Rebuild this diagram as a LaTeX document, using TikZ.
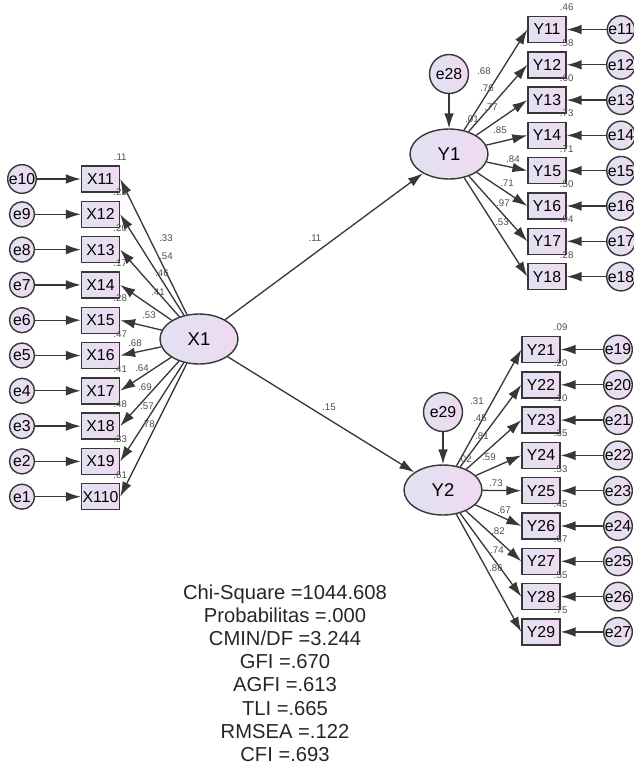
\documentclass[tikz,border=0pt]{standalone}
\usepackage{fontspec}
\setmainfont{Liberation Sans}
\usetikzlibrary{arrows.meta,positioning,shapes.geometric}
\definecolor{lavL}{RGB}{224,226,241}
\definecolor{lavR}{RGB}{240,217,241}
\definecolor{linegray}{RGB}{55,55,55}

\begin{document}
\begin{tikzpicture}[x=0.02cm,y=-0.02cm,
    shaded/.style={draw=linegray,line width=0.8pt,left color=lavL,right color=lavR,inner sep=0pt},
    ind/.style={shaded,rectangle,minimum width=0.76cm,minimum height=0.52cm,font=\fontsize{9}{9}\selectfont},
    lat/.style={shaded,ellipse,minimum width=1.56cm,minimum height=1cm,font=\fontsize{10.5}{10.5}\selectfont},
    err/.style={shaded,circle,minimum size=0.5cm,font=\fontsize{9}{9}\selectfont},
    bigerr/.style={err,minimum size=0.78cm},
    coef/.style={inner sep=0pt,text=black!70,font=\fontsize{5.5}{5.5}\selectfont},
    r2/.style={coef,above=2.5pt of #1},
    stats/.style={align=center,text=black!85,font=\fontsize{11.5}{13.2}\selectfont}]

  \useasboundingbox (0,0) rectangle (634,765);

  % latent variables
  \node[lat] (x1) at (199,339) {X1};
  \node[lat] (y1) at (449,154) {Y1};
  \node[lat] (y2) at (443,490) {Y2};
  \node[bigerr] (e28) at (449,74) {e28};
  \node[bigerr] (e29) at (443,412) {e29};

  % X indicators and errors
  \node[ind] (x11)  at (100.5,179)   {X11};
  \node[ind] (x12)  at (100.5,214.3) {X12};
  \node[ind] (x13)  at (100.5,249.6) {X13};
  \node[ind] (x14)  at (100.5,284.9) {X14};
  \node[ind] (x15)  at (100.5,320.2) {X15};
  \node[ind] (x16)  at (100.5,355.5) {X16};
  \node[ind] (x17)  at (100.5,390.8) {X17};
  \node[ind] (x18)  at (100.5,426.1) {X18};
  \node[ind] (x19)  at (100.5,461.4) {X19};
  \node[ind] (x110) at (100.5,496.7) {X110};
  \node[err] (e10) at (22,179)   {e10};
  \node[err] (e9)  at (22,214.3) {e9};
  \node[err] (e8)  at (22,249.6) {e8};
  \node[err] (e7)  at (22,284.9) {e7};
  \node[err] (e6)  at (22,320.2) {e6};
  \node[err] (e5)  at (22,355.5) {e5};
  \node[err] (e4)  at (22,390.8) {e4};
  \node[err] (e3)  at (22,426.1) {e3};
  \node[err] (e2)  at (22,461.4) {e2};
  \node[err] (e1)  at (22,496.7) {e1};

  % Y1 indicators and errors
  \node[ind] (y11) at (547,29.5)  {Y11};
  \node[ind] (y12) at (547,64.8)  {Y12};
  \node[ind] (y13) at (547,100.1) {Y13};
  \node[ind] (y14) at (547,135.4) {Y14};
  \node[ind] (y15) at (547,170.7) {Y15};
  \node[ind] (y16) at (547,206)   {Y16};
  \node[ind] (y17) at (547,241.3) {Y17};
  \node[ind] (y18) at (547,276.6) {Y18};
  \node[err] (e11) at (621,29.5)  {e11};
  \node[err] (e12) at (621,64.8)  {e12};
  \node[err] (e13) at (621,100.1) {e13};
  \node[err] (e14) at (621,135.4) {e14};
  \node[err] (e15) at (621,170.7) {e15};
  \node[err] (e16) at (621,206)   {e16};
  \node[err] (e17) at (621,241.3) {e17};
  \node[err] (e18) at (621,276.6) {e18};

  % Y2 indicators and errors
  \node[ind] (y21) at (541,349.5) {Y21};
  \node[ind] (y22) at (541,384.8) {Y22};
  \node[ind] (y23) at (541,420.1) {Y23};
  \node[ind] (y24) at (541,455.4) {Y24};
  \node[ind] (y25) at (541,490.7) {Y25};
  \node[ind] (y26) at (541,526)   {Y26};
  \node[ind] (y27) at (541,561.3) {Y27};
  \node[ind] (y28) at (541,596.6) {Y28};
  \node[ind] (y29) at (541,631.9) {Y29};
  \node[err] (e19) at (618,349.5) {e19};
  \node[err] (e20) at (618,384.8) {e20};
  \node[err] (e21) at (618,420.1) {e21};
  \node[err] (e22) at (618,455.4) {e22};
  \node[err] (e23) at (618,490.7) {e23};
  \node[err] (e24) at (618,526)   {e24};
  \node[err] (e25) at (618,561.3) {e25};
  \node[err] (e26) at (618,596.6) {e26};
  \node[err] (e27) at (618,631.9) {e27};

  \begin{scope}[every edge/.style={draw=linegray,line width=0.75pt,-{Latex[length=8.5pt,width=5.5pt]}}]
    % structural paths
    \path (x1) edge (y1);
    \path (x1) edge (y2);
    \path (e28) edge (y1);
    \path (e29) edge (y2);
    % X1 loadings
    \path (x1) edge (x11.east);
    \path (x1) edge (x12.east);
    \path (x1) edge (x13.east);
    \path (x1) edge (x14.east);
    \path (x1) edge (x15.east);
    \path (x1) edge (x16.east);
    \path (x1) edge (x17.east);
    \path (x1) edge (x18.east);
    \path (x1) edge (x19.east);
    \path (x1) edge (x110.east);
    \path (e10) edge (x11);
    \path (e9)  edge (x12);
    \path (e8)  edge (x13);
    \path (e7)  edge (x14);
    \path (e6)  edge (x15);
    \path (e5)  edge (x16);
    \path (e4)  edge (x17);
    \path (e3)  edge (x18);
    \path (e2)  edge (x19);
    \path (e1)  edge (x110);
    % Y1 loadings
    \path (y1) edge (y11.west);
    \path (y1) edge (y12.west);
    \path (y1) edge (y13.west);
    \path (y1) edge (y14.west);
    \path (y1) edge (y15.west);
    \path (y1) edge (y16.west);
    \path (y1) edge (y17.west);
    \path (y1) edge (y18.west);
    \path (e11) edge (y11);
    \path (e12) edge (y12);
    \path (e13) edge (y13);
    \path (e14) edge (y14);
    \path (e15) edge (y15);
    \path (e16) edge (y16);
    \path (e17) edge (y17);
    \path (e18) edge (y18);
    % Y2 loadings
    \path (y2) edge (y21.west);
    \path (y2) edge (y22.west);
    \path (y2) edge (y23.west);
    \path (y2) edge (y24.west);
    \path (y2) edge (y25.west);
    \path (y2) edge (y26.west);
    \path (y2) edge (y27.west);
    \path (y2) edge (y28.west);
    \path (y2) edge (y29.west);
    \path (e19) edge (y21);
    \path (e20) edge (y22);
    \path (e21) edge (y23);
    \path (e22) edge (y24);
    \path (e23) edge (y25);
    \path (e24) edge (y26);
    \path (e25) edge (y27);
    \path (e26) edge (y28);
    \path (e27) edge (y29);
  \end{scope}

  % estimates
  \begin{scope}[every node/.style={coef}]
    \node (bx1y1) at (315,238) {.11};
    \node (bx1y2) at (329,407) {.15};
    \node (ry1) at (472,119) {.01};
    \node (ry2) at (465,459) {.02};
    \node (lx11)  at (166,238) {.33};
    \node (lx12)  at (166,256) {.54};
    \node (lx13)  at (162,273) {.46};
    \node (lx14)  at (158,292) {.41};
    \node (lx15)  at (149,315) {.53};
    \node (lx16)  at (135,343) {.68};
    \node (lx17)  at (142,368) {.64};
    \node (lx18)  at (145,387) {.69};
    \node (lx19)  at (147,406) {.57};
    \node (lx110) at (148,424) {.78};
    \node (ly11) at (484,71)  {.68};
    \node (ly12) at (487,88)  {.76};
    \node (ly13) at (491,107) {.77};
    \node (ly14) at (500,130) {.85};
    \node (ly15) at (513,159) {.84};
    \node (ly16) at (507,183) {.71};
    \node (ly17) at (503,203) {.97};
    \node (ly18) at (502,222) {.53};
    \node (ly21) at (477,401) {.31};
    \node (ly22) at (480,418) {.45};
    \node (ly23) at (482,436) {.81};
    \node (ly24) at (489,457) {.59};
    \node (ly25) at (496,483) {.73};
    \node (ly26) at (504,510) {.67};
    \node (ly27) at (498,531) {.82};
    \node (ly28) at (497,550) {.74};
    \node (ly29) at (496,568) {.86};
  \end{scope}

  % squared multiple correlations
  \node[r2=x11.north east]  (rx11)  {.11};
  \node[r2=x12.north east]  (rx12)  {.23};
  \node[r2=x13.north east]  (rx13)  {.20};
  \node[r2=x14.north east]  (rx14)  {.17};
  \node[r2=x15.north east]  (rx15)  {.28};
  \node[r2=x16.north east]  (rx16)  {.47};
  \node[r2=x17.north east]  (rx17)  {.41};
  \node[r2=x18.north east]  (rx18)  {.48};
  \node[r2=x19.north east]  (rx19)  {.33};
  \node[r2=x110.north east] (rx110) {.61};
  \node[r2=y11.north east] (ry11) {.46};
  \node[r2=y12.north east] (ry12) {.58};
  \node[r2=y13.north east] (ry13) {.60};
  \node[r2=y14.north east] (ry14) {.73};
  \node[r2=y15.north east] (ry15) {.71};
  \node[r2=y16.north east] (ry16) {.50};
  \node[r2=y17.north east] (ry17) {.94};
  \node[r2=y18.north east] (ry18) {.28};
  \node[r2=y21.north east] (ry21) {.09};
  \node[r2=y22.north east] (ry22) {.20};
  \node[r2=y23.north east] (ry23) {.10};
  \node[r2=y24.north east] (ry24) {.35};
  \node[r2=y25.north east] (ry25) {.53};
  \node[r2=y26.north east] (ry26) {.45};
  \node[r2=y27.north east] (ry27) {.67};
  \node[r2=y28.north east] (ry28) {.55};
  \node[r2=y29.north east] (ry29) {.75};

  % fit indices
  \node[stats] (fit) at (285,673) {Chi-Square =1044.608\\ Probabilitas =.000\\ CMIN/DF =3.244\\ GFI =.670\\ AGFI =.613\\ TLI =.665\\ RMSEA =.122\\ CFI =.693};

\end{tikzpicture}
\end{document}
